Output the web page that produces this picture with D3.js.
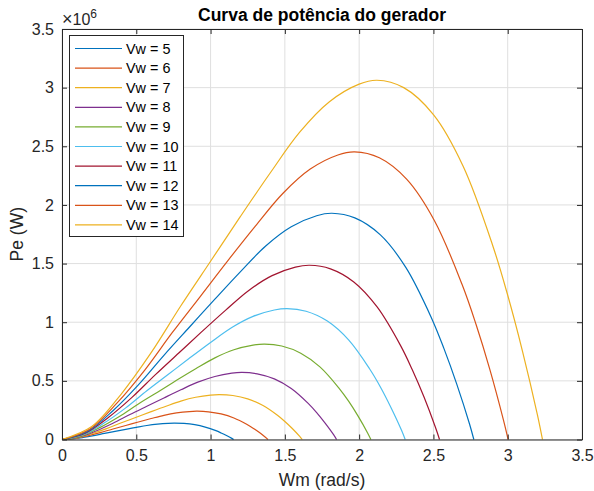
<!DOCTYPE html>
<html>
<head>
<meta charset="utf-8">
<script src="https://cdn.jsdelivr.net/npm/d3@7"></script>
<style>
  html, body { margin: 0; padding: 0; background: #ffffff; }
  svg { display: block; font-family: "Liberation Sans", Arial, Helvetica, sans-serif; }
</style>
</head>
<body>
<svg id="chart" width="594" height="491"></svg>
<script>
// Generator power curves Pe(Wm) for wind speeds Vw = 5 ... 14 m/s (Pe in units of 10^6 W)
const windSpeeds = [5, 6, 7, 8, 9, 10, 11, 12, 13, 14];

const wmVw5  = [0, 0.071, 0.143, 0.214, 0.286, 0.357, 0.429, 0.5, 0.571, 0.643, 0.714, 0.757, 0.821, 0.893, 0.964, 1.036, 1.071, 1.107, 1.143, 1.155];
const peVw5  = [0, 0.0050, 0.0178, 0.0337, 0.0519, 0.0692, 0.0866, 0.1034, 0.1194, 0.1312, 0.1380, 0.1395, 0.1367, 0.1262, 0.1061, 0.0752, 0.0560, 0.0342, 0.0096, 0];

const wmVw6  = [0, 0.086, 0.171, 0.257, 0.343, 0.429, 0.514, 0.6, 0.686, 0.771, 0.857, 0.909, 0.986, 1.071, 1.157, 1.243, 1.286, 1.329, 1.371, 1.386];
const peVw6  = [0, 0.0087, 0.0307, 0.0583, 0.0897, 0.1197, 0.1496, 0.1787, 0.2062, 0.2267, 0.2385, 0.2411, 0.2362, 0.2181, 0.1834, 0.1299, 0.0968, 0.0590, 0.0165, 0];

const wmVw7  = [0, 0.1, 0.2, 0.3, 0.4, 0.5, 0.6, 0.7, 0.8, 0.9, 1.0, 1.06, 1.15, 1.25, 1.35, 1.45, 1.5, 1.55, 1.6, 1.617];
const peVw7  = [0, 0.0138, 0.0488, 0.0925, 0.1425, 0.19, 0.2375, 0.2838, 0.3275, 0.36, 0.3788, 0.3829, 0.375, 0.3463, 0.2913, 0.2063, 0.1538, 0.0938, 0.0263, 0];

const wmVw8  = [0, 0.114, 0.229, 0.343, 0.457, 0.571, 0.686, 0.8, 0.914, 1.029, 1.143, 1.211, 1.314, 1.429, 1.543, 1.657, 1.714, 1.771, 1.829, 1.848];
const peVw8  = [0, 0.0205, 0.0728, 0.1381, 0.2127, 0.2836, 0.3545, 0.4236, 0.4889, 0.5374, 0.5654, 0.5715, 0.5598, 0.5169, 0.4348, 0.3079, 0.2295, 0.1399, 0.0392, 0];

const wmVw9  = [0, 0.129, 0.257, 0.386, 0.514, 0.643, 0.771, 0.9, 1.029, 1.157, 1.286, 1.363, 1.479, 1.607, 1.736, 1.864, 1.929, 1.993, 2.057, 2.079];
const peVw9  = [0, 0.0292, 0.1036, 0.1966, 0.3029, 0.4038, 0.5048, 0.6031, 0.6961, 0.7651, 0.8050, 0.8138, 0.7970, 0.7359, 0.6190, 0.4384, 0.3268, 0.1993, 0.0558, 0];

const wmVw10 = [0, 0.143, 0.286, 0.429, 0.571, 0.714, 0.857, 1.0, 1.143, 1.286, 1.429, 1.514, 1.643, 1.786, 1.929, 2.071, 2.143, 2.214, 2.286, 2.31];
const peVw10 = [0, 0.0401, 0.1421, 0.2697, 0.4155, 0.5539, 0.6924, 0.8273, 0.9548, 1.0496, 1.1042, 1.1163, 1.0933, 1.0095, 0.8491, 0.6013, 0.4483, 0.2733, 0.0765, 0];

const wmVw11 = [0, 0.157, 0.314, 0.471, 0.629, 0.786, 0.943, 1.1, 1.257, 1.414, 1.571, 1.666, 1.807, 1.964, 2.121, 2.279, 2.357, 2.436, 2.514, 2.541];
const peVw11 = [0, 0.0534, 0.1892, 0.3589, 0.5530, 0.7373, 0.9216, 1.1011, 1.2709, 1.3970, 1.4697, 1.4857, 1.4552, 1.3436, 1.1302, 0.8004, 0.5966, 0.3638, 0.1019, 0];

const wmVw12 = [0, 0.171, 0.343, 0.514, 0.686, 0.857, 1.029, 1.2, 1.371, 1.543, 1.714, 1.817, 1.971, 2.143, 2.314, 2.486, 2.571, 2.657, 2.743, 2.772];
const peVw12 = [0, 0.0693, 0.2456, 0.4660, 0.7179, 0.9572, 1.1965, 1.4295, 1.6499, 1.8137, 1.9081, 1.9289, 1.8892, 1.7444, 1.4673, 1.0391, 0.7746, 0.4723, 0.1322, 0];

const wmVw13 = [0, 0.186, 0.371, 0.557, 0.743, 0.929, 1.114, 1.3, 1.486, 1.671, 1.857, 1.969, 2.136, 2.321, 2.507, 2.693, 2.786, 2.879, 2.971, 3.003];
const peVw13 = [0, 0.0881, 0.3123, 0.5925, 0.9128, 1.2170, 1.5213, 1.8175, 2.0977, 2.3059, 2.4260, 2.4524, 2.4020, 2.2178, 1.8655, 1.3211, 0.9848, 0.6005, 0.1681, 0];

const wmVw14 = [0, 0.2, 0.4, 0.6, 0.8, 1.0, 1.2, 1.4, 1.6, 1.8, 2.0, 2.12, 2.3, 2.5, 2.7, 2.9, 3.0, 3.1, 3.2, 3.234];
const peVw14 = [0, 0.11, 0.39, 0.74, 1.14, 1.52, 1.90, 2.27, 2.62, 2.88, 3.03, 3.063, 3.0, 2.77, 2.33, 1.65, 1.23, 0.75, 0.21, 0];

const wmSeries = [wmVw5, wmVw6, wmVw7, wmVw8, wmVw9, wmVw10, wmVw11, wmVw12, wmVw13, wmVw14];
const peSeries = [peVw5, peVw6, peVw7, peVw8, peVw9, peVw10, peVw11, peVw12, peVw13, peVw14];

const xTicks = [0, 0.5, 1, 1.5, 2, 2.5, 3, 3.5];
const xTickLabels = ["0", "0.5", "1", "1.5", "2", "2.5", "3", "3.5"];
const yTicks = [0, 0.5, 1, 1.5, 2, 2.5, 3, 3.5];
const yTickLabels = ["0", "0.5", "1", "1.5", "2", "2.5", "3", "3.5"];

const palette = ["#0072BD", "#D95319", "#EDB120", "#7E2F8E", "#77AC30", "#4DBEEE", "#A2142F"];

const series = windSpeeds.map((v, i) => ({
  label: "Vw = " + v,
  color: palette[i % palette.length],
  points: wmSeries[i].map((w, j) => ({ wm: w, pe: peSeries[i][j] }))
}));

// Plot box
const plotLeft = 62, plotRight = 582, plotTop = 29, plotBottom = 439.5;
const axisColor = "#262626";

const svg = d3.select("#chart");
const x = d3.scaleLinear().domain([0, 3.5]).range([plotLeft, plotRight]);
const y = d3.scaleLinear().domain([0, 3.5]).range([plotBottom, plotTop]);

// Grid
const grid = svg.append("g").attr("stroke", "#dfdfdf").attr("stroke-width", 1);
grid.selectAll("line.vx").data(xTicks).join("line")
  .attr("x1", d => x(d)).attr("x2", d => x(d))
  .attr("y1", plotTop).attr("y2", plotBottom);
grid.selectAll("line.hy").data(yTicks).join("line")
  .attr("x1", plotLeft).attr("x2", plotRight)
  .attr("y1", d => y(d)).attr("y2", d => y(d));

// Curves
const line = d3.line()
  .x(d => x(d.wm))
  .y(d => y(d.pe))
  .curve(d3.curveCatmullRom.alpha(0.5));

svg.append("g").selectAll("path").data(series).join("path")
  .attr("d", d => line(d.points))
  .attr("fill", "none")
  .attr("stroke", d => d.color)
  .attr("stroke-width", 1.2);

// Axes (box with inward ticks on all four sides)
function styleAxis(g) {
  g.selectAll(".domain").attr("stroke", axisColor).attr("stroke-width", 1);
  g.selectAll(".tick line").attr("stroke", axisColor).attr("stroke-width", 1);
  g.selectAll(".tick text").attr("fill", axisColor).style("font-size", "16px")
    .style("font-family", "'Liberation Sans', Arial, Helvetica, sans-serif");
}

svg.append("g").attr("transform", `translate(0,${plotBottom})`)
  .call(d3.axisBottom(x).tickValues(xTicks).tickFormat((d, i) => xTickLabels[i])
    .tickSizeInner(-5).tickSizeOuter(0).tickPadding(10))
  .call(styleAxis);

svg.append("g").attr("transform", `translate(0,${plotTop})`)
  .call(d3.axisTop(x).tickValues(xTicks).tickFormat("")
    .tickSizeInner(-5).tickSizeOuter(0))
  .call(styleAxis);

svg.append("g").attr("transform", `translate(${plotLeft},0)`)
  .call(d3.axisLeft(y).tickValues(yTicks).tickFormat((d, i) => yTickLabels[i])
    .tickSizeInner(-5).tickSizeOuter(0).tickPadding(8))
  .call(styleAxis);

svg.append("g").attr("transform", `translate(${plotRight},0)`)
  .call(d3.axisRight(y).tickValues(yTicks).tickFormat("")
    .tickSizeInner(-5).tickSizeOuter(0))
  .call(styleAxis);

// Exponent marker of the y axis
const expo = svg.append("text")
  .attr("x", plotLeft).attr("y", 25)
  .attr("fill", axisColor)
  .style("font-size", "16px");
expo.append("tspan").style("font-size", "18px").text("\u00d7");
expo.append("tspan").text("10");
expo.append("tspan").attr("dy", -7).style("font-size", "12px").text("6");

// Title and axis labels
svg.append("text")
  .attr("x", (plotLeft + plotRight) / 2).attr("y", 21)
  .attr("text-anchor", "middle")
  .attr("fill", "#000")
  .style("font-size", "17.5px").style("font-weight", "bold")
  .text("Curva de potência do gerador");

svg.append("text")
  .attr("x", (plotLeft + plotRight) / 2).attr("y", 486)
  .attr("text-anchor", "middle")
  .attr("fill", axisColor)
  .style("font-size", "17.5px")
  .text("Wm (rad/s)");

svg.append("text")
  .attr("transform", `translate(23,${(plotTop + plotBottom) / 2}) rotate(-90)`)
  .attr("text-anchor", "middle")
  .attr("fill", axisColor)
  .style("font-size", "17.5px")
  .text("Pe (W)");

// Legend
const legendX = 69.5, legendY = 35.5, legendW = 114, legendH = 201;
const rowY0 = 48.5, rowStep = 19.6;
const legend = svg.append("g");
legend.append("rect")
  .attr("x", legendX).attr("y", legendY)
  .attr("width", legendW).attr("height", legendH)
  .attr("fill", "#fff").attr("stroke", axisColor).attr("stroke-width", 1);

const rows = legend.selectAll("g.row").data(series).join("g")
  .attr("transform", (d, i) => `translate(0,${rowY0 + i * rowStep})`);
rows.append("line")
  .attr("x1", 75).attr("x2", 122)
  .attr("stroke", d => d.color).attr("stroke-width", 1.2);
rows.append("text")
  .attr("x", 126).attr("dy", "0.36em")
  .attr("fill", "#000")
  .style("font-size", "14.4px")
  .text(d => d.label);
</script>
</body>
</html>
